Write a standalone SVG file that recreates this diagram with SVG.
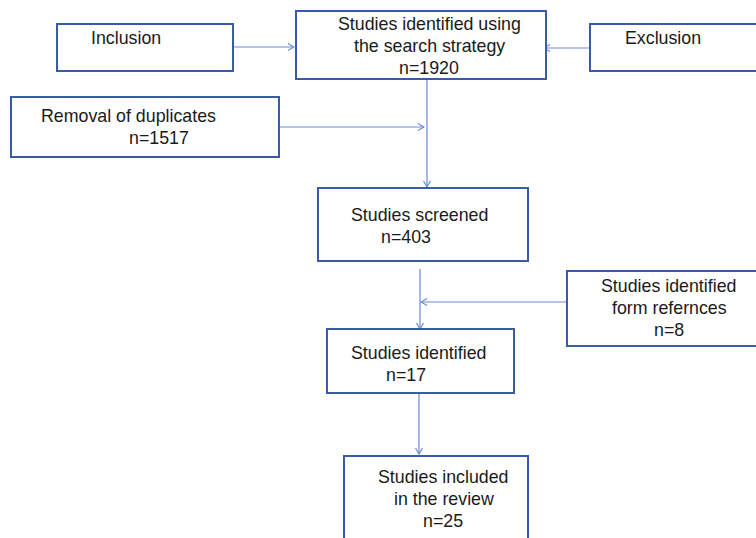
<svg xmlns="http://www.w3.org/2000/svg" width="756" height="538" viewBox="0 0 756 538">
<style>
.box{fill:#fff;stroke:#3a5ba8;stroke-width:2}
.t{font-family:"Liberation Sans",Arial,sans-serif;font-size:17.8px;fill:#1a1a1a}
.c{fill:none;stroke:#6a8ad6;stroke-width:1.2}
</style>
<defs>
<marker id="a" viewBox="0 0 10 10" refX="9" refY="5" markerWidth="10" markerHeight="10" markerUnits="userSpaceOnUse" orient="auto">
<polyline points="3,1.5 9,5 3,8.5" fill="none" stroke="#6a8ad6" stroke-width="1.2"/>
</marker>
</defs>
<rect width="756" height="538" fill="#fff"/>
<g id="connectors">
<line class="c" x1="233" y1="47" x2="294" y2="47" marker-end="url(#a)"/>
<line class="c" x1="590" y1="48" x2="544" y2="48" marker-end="url(#a)"/>
<line class="c" x1="427" y1="79" x2="427" y2="187" marker-end="url(#a)"/>
<line class="c" x1="279" y1="127" x2="424" y2="127" marker-end="url(#a)"/>
<line class="c" x1="420" y1="269" x2="420" y2="329" marker-end="url(#a)"/>
<line class="c" x1="567" y1="302" x2="421" y2="302" marker-end="url(#a)"/>
<line class="c" x1="419" y1="393" x2="419" y2="454" marker-end="url(#a)"/>
</g>
<g id="inclusion"><rect class="box" x="57" y="24" width="176" height="47"/><text class="t" x="91" y="44">Inclusion</text></g>
<g id="identified-search"><rect class="box" x="296" y="11" width="250" height="68"/><text class="t" x="338" y="30">Studies identified using</text><text class="t" x="354" y="52">the search strategy</text><text class="t" x="399" y="74">n=1920</text></g>
<g id="exclusion"><rect class="box" x="590" y="24" width="180" height="47"/><text class="t" x="625" y="44">Exclusion</text></g>
<g id="duplicates"><rect class="box" x="11" y="97" width="268" height="60"/><text class="t" x="41" y="122">Removal of duplicates</text><text class="t" x="129" y="144">n=1517</text></g>
<g id="screened"><rect class="box" x="318" y="188" width="210" height="73"/><text class="t" x="351" y="221">Studies screened</text><text class="t" x="381" y="243">n=403</text></g>
<g id="references"><rect class="box" x="567" y="271" width="200" height="75"/><text class="t" x="601" y="292">Studies identified</text><text class="t" x="612" y="314">form refernces</text><text class="t" x="654" y="336">n=8</text></g>
<g id="identified"><rect class="box" x="327" y="329" width="187" height="64"/><text class="t" x="351" y="359">Studies identified</text><text class="t" x="386" y="381">n=17</text></g>
<g id="included"><rect class="box" x="344" y="456" width="184" height="100"/><text class="t" x="378" y="483">Studies included</text><text class="t" x="394" y="505">in the review</text><text class="t" x="423" y="527">n=25</text></g>
</svg>
